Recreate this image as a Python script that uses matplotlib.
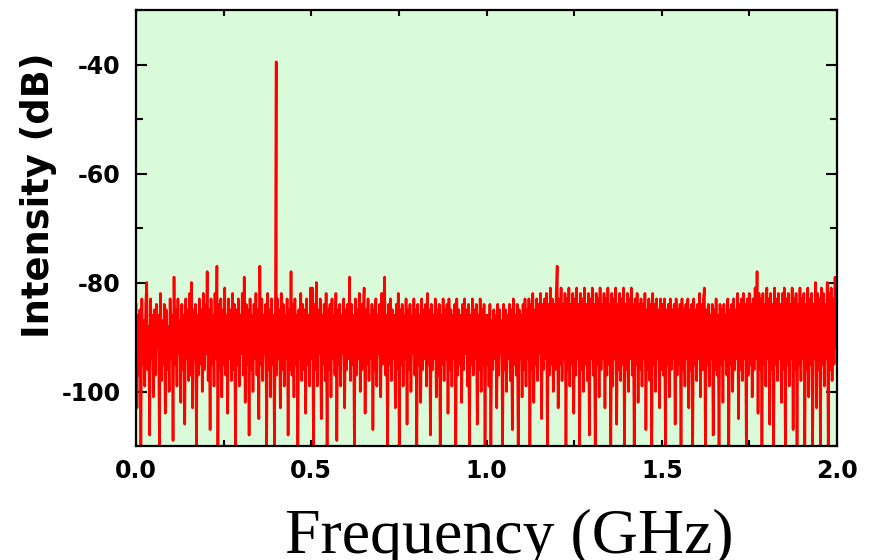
import numpy as np
import matplotlib
matplotlib.use("Agg")
import matplotlib.pyplot as plt
from matplotlib.ticker import MultipleLocator

# ---- data ----
# noise floor, 0.0-0.5 GHz (dB)
noise_a = [
    -84, -103, -86, -97, -85, -110, -83, -95, -87, -99, -84, -80, -96, -88, -108, -83, -94, -86, -101, -85,
    -97, -84, -92, -86, -110, -82, -98, -87, -95, -84, -104, -85, -96, -88, -100, -83, -94, -86, -109, -79,
    -95, -85, -99, -83, -93, -87, -102, -84, -96, -86, -106, -83, -94, -85, -98, -82, -97, -80, -103, -85,
    -94, -84, -110, -86, -97, -83, -95, -85, -100, -82, -96, -84, -93, -78, -98, -85, -107, -83, -95, -86,
    -99, -82, -94, -77, -110, -84, -96, -83, -101, -85, -95, -81, -97, -86, -104, -83, -94, -85, -98, -82,
    -96, -84, -110, -85, -95, -83, -99, -86, -93, -82, -97, -79, -102, -84, -95, -85, -108, -83, -96, -86,
    -100, -84, -94, -82, -97, -85, -105, -77, -95, -83, -98, -86, -93, -84, -110, -82, -96, -85, -101, -83,
    -95, -86, -110, -84, -97, -83, -94, -85, -103, -82, -96, -84, -99, -86, -94, -83, -108, -85, -96, -78,
    -97, -84, -101, -83, -95, -86, -110, -85, -94, -82, -98, -84, -96, -85, -104, -83, -95, -86, -99, -81,
]
# noise floor, 0.5-1.0 GHz (dB)
noise_b = [
    -94, -81, -110, -84, -96, -80, -99, -85, -93, -83, -105, -86, -95, -84, -98, -82, -110, -85, -96, -84,
    -101, -83, -94, -86, -97, -82, -109, -85, -95, -84, -99, -86, -93, -83, -103, -85, -96, -84, -94, -79,
    -98, -84, -95, -86, -110, -83, -97, -85, -94, -82, -100, -84, -96, -86, -81, -104, -85, -95, -83, -98,
    -86, -94, -84, -107, -85, -96, -83, -99, -86, -93, -84, -101, -82, -95, -85, -79, -97, -86, -110, -84,
    -95, -83, -98, -85, -94, -86, -103, -84, -96, -82, -110, -85, -95, -84, -99, -86, -94, -83, -106, -85,
    -96, -84, -100, -86, -93, -83, -97, -85, -110, -84, -95, -86, -102, -83, -96, -85, -94, -84, -99, -82,
    -95, -85, -108, -84, -96, -86, -94, -83, -101, -85, -97, -84, -110, -86, -95, -83, -98, -85, -94, -84,
    -104, -83, -96, -85, -99, -86, -94, -84, -110, -83, -97, -85, -95, -86, -102, -84, -96, -83, -93, -85,
    -99, -84, -110, -86, -95, -83, -97, -85, -94, -84, -106, -86, -96, -83, -100, -85, -95, -84, -110, -86,
]
# noise floor, 1.0-1.5 GHz (dB)
noise_c = [
    -95, -86, -99, -84, -110, -87, -96, -85, -94, -86, -103, -84, -97, -85, -93, -87, -110, -84, -96, -85,
    -100, -86, -94, -84, -98, -85, -107, -83, -95, -86, -97, -84, -110, -85, -94, -86, -101, -84, -96, -83,
    -99, -85, -94, -83, -110, -84, -96, -82, -102, -85, -95, -83, -98, -84, -93, -82, -105, -84, -96, -83,
    -94, -82, -110, -84, -97, -81, -95, -83, -100, -84, -96, -82, -77, -103, -83, -95, -81, -98, -84, -94,
    -82, -110, -83, -96, -81, -99, -84, -95, -82, -104, -83, -97, -81, -94, -84, -110, -82, -96, -83, -100,
    -81, -95, -84, -98, -82, -108, -83, -94, -81, -97, -84, -110, -82, -95, -83, -101, -81, -96, -84, -94,
    -82, -103, -83, -97, -81, -95, -84, -110, -82, -99, -83, -94, -81, -106, -84, -96, -82, -98, -83, -95,
    -81, -110, -84, -96, -82, -100, -83, -94, -81, -97, -84, -110, -83, -95, -82, -102, -84, -96, -83, -99,
    -84, -94, -82, -107, -85, -96, -83, -98, -84, -110, -82, -95, -84, -100, -83, -94, -85, -103, -83, -96,
]
# noise floor, 1.5-2.0 GHz (dB)
noise_d = [
    -84, -97, -83, -110, -85, -95, -84, -101, -83, -96, -85, -94, -84, -106, -83, -97, -85, -95, -84, -110,
    -83, -96, -85, -99, -84, -94, -83, -103, -85, -96, -84, -110, -83, -95, -85, -98, -84, -94, -82, -101,
    -84, -96, -83, -81, -110, -85, -95, -84, -99, -86, -94, -84, -108, -85, -96, -83, -97, -86, -110, -84,
    -95, -85, -102, -84, -94, -86, -97, -83, -110, -85, -95, -84, -100, -83, -96, -85, -94, -82, -105, -84,
    -96, -83, -98, -82, -94, -84, -110, -83, -97, -82, -95, -84, -101, -83, -96, -81, -94, -78, -104, -82,
    -96, -83, -110, -82, -95, -84, -99, -81, -94, -83, -106, -82, -96, -84, -110, -81, -95, -83, -98, -82,
    -94, -84, -102, -82, -96, -81, -110, -83, -95, -82, -99, -84, -94, -81, -107, -83, -96, -82, -110, -84,
    -95, -81, -98, -83, -94, -82, -110, -84, -96, -81, -101, -83, -95, -82, -110, -84, -94, -80, -103, -82,
    -96, -83, -110, -81, -95, -82, -99, -84, -94, -80, -110, -82, -96, -81, -98, -83, -95, -79, -92, -84,
]

spike_freq = 0.4      # GHz
spike_level = -39.5   # dB

x_ticks = [0.0, 0.5, 1.0, 1.5, 2.0]
x_tick_labels = ["0.0", "0.5", "1.0", "1.5", "2.0"]
y_ticks = [-40, -60, -80, -100]
y_tick_labels = ["-40", "-60", "-80", "-100"]

# ---- build series ----
level = np.array(noise_a + noise_b + noise_c + noise_d, dtype=float)
freq = np.linspace(0.0, 2.0, len(level))
idx = np.searchsorted(freq, spike_freq)
freq = np.insert(freq, idx, spike_freq)
level = np.insert(level, idx, spike_level)

# ---- figure ----
fig = plt.figure(figsize=(8.71, 5.6), dpi=100)
ax = fig.add_axes([136 / 871, 1 - 446 / 560, (837 - 136) / 871, (446 - 10) / 560])
ax.set_facecolor("#d9fbd9")

ax.plot(freq, level, color="#ff0000", lw=1.9)

ax.set_xlim(0, 2.0)
ax.set_ylim(-110, -30)

ax.set_xticks(x_ticks)
ax.set_xticklabels(x_tick_labels)
ax.set_yticks(y_ticks)
ax.set_yticklabels(y_tick_labels)
ax.xaxis.set_minor_locator(MultipleLocator(0.25))
ax.yaxis.set_minor_locator(MultipleLocator(10))

for lab in ax.get_xticklabels() + ax.get_yticklabels():
    lab.set_fontfamily("DejaVu Sans")
    lab.set_fontweight("bold")
    lab.set_fontsize(17)

ax.tick_params(axis="both", which="both", direction="in", top=True, right=True,
               width=1.5, color="black")
ax.tick_params(axis="y", which="major", length=8, pad=11)
ax.tick_params(axis="y", which="minor", length=5)
ax.tick_params(axis="x", which="major", length=4, pad=9.5)
ax.tick_params(axis="x", which="minor", length=4)

for sp in ax.spines.values():
    sp.set_linewidth(1.6)
    sp.set_color("black")
    sp.set_zorder(5)

fig.text(57 / 871, 1 - 195 / 560, "Intensity (dB)", rotation=90,
         ha="right", va="center", family="DejaVu Sans", weight="bold", fontsize=26.5)
fig.text(509 / 871, 1 - 553 / 560, "Frequency (GHz)", ha="center", va="baseline",
         family="Liberation Serif", fontsize=46)

fig.savefig("out.png", dpi=100)
